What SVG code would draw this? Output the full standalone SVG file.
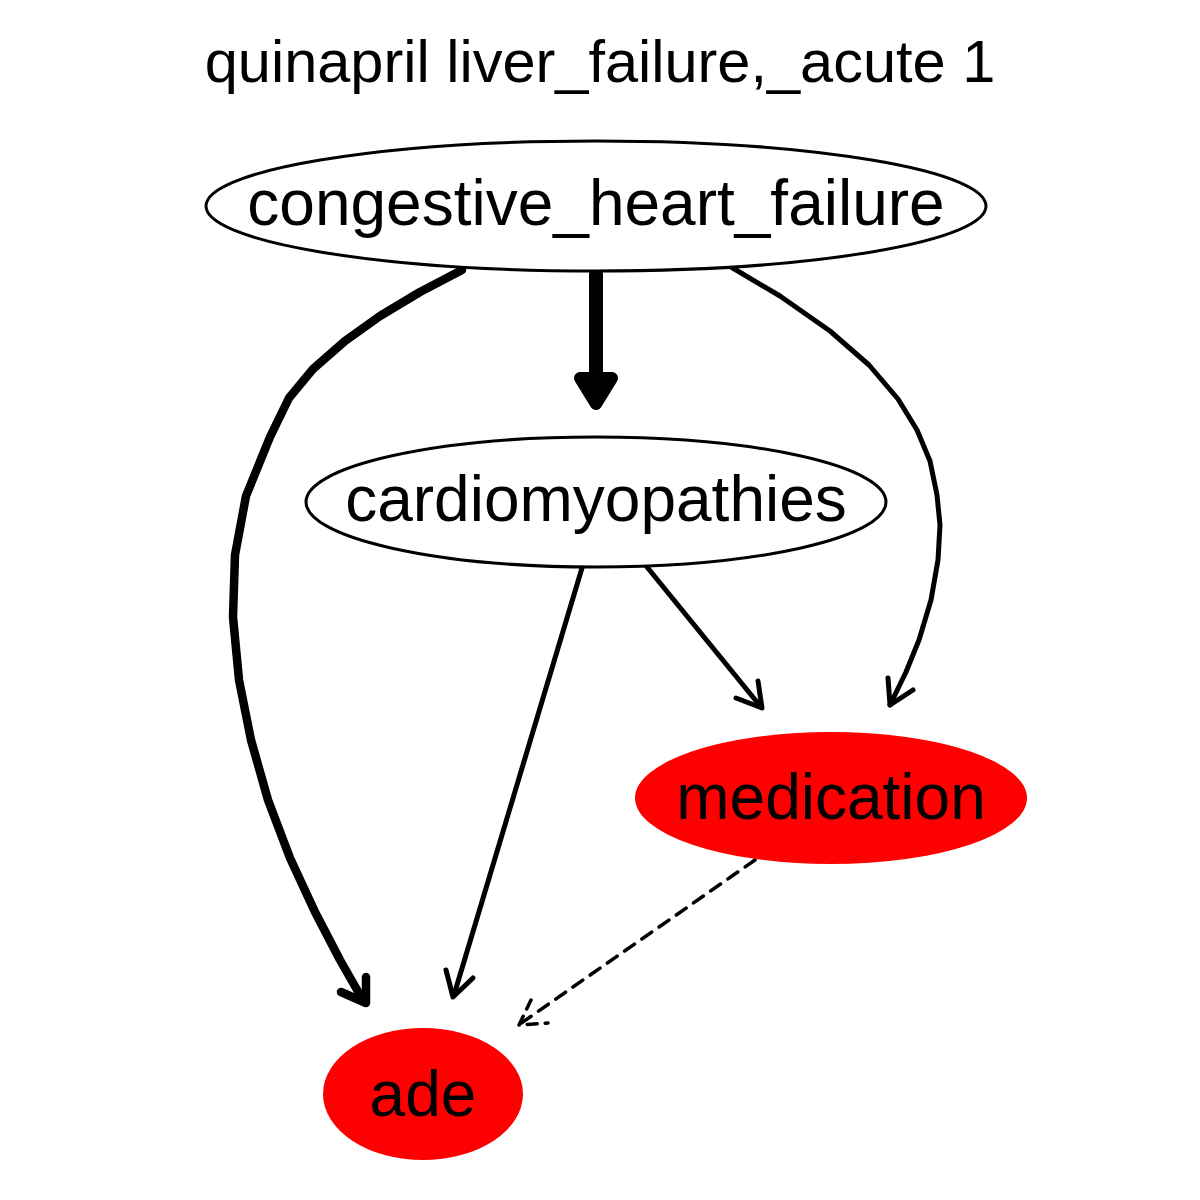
<svg xmlns="http://www.w3.org/2000/svg" width="1200" height="1200" viewBox="0 0 1200 1200">
<style>
text{font-family:"Liberation Sans",Arial,sans-serif;text-anchor:middle;fill:#000}
.lbl{font-size:64px}
.title{font-size:59.5px}
.e{fill:none;stroke:#000;stroke-linecap:round;stroke-linejoin:round}
.thin{stroke-width:5}
.mid{stroke-width:8.5}
</style>
<rect width="1200" height="1200" fill="#fff"/>
<text class="title" x="600" y="82">quinapril liver_failure,_acute 1</text>
<g id="connectors">
  <g id="e_chf_cardio">
    <path class="e" d="M596,274 L596,380" stroke-width="14"/>
    <polygon points="580,378 612,378 596,404" fill="#000" stroke="#000" stroke-width="12" stroke-linejoin="round"/>
  </g>
  <g id="e_chf_ade">
    <path class="e mid" d="M462,270 L420,292 L380,316 L345,341 L313,369 L289,398 L270,437 L246,496 L235,555 L233,617 L239,680 L251,740 L268,800 L290,858 L315,912 L340,960 L364,1002"/>
    <path class="e mid" d="M366,977 L366,1003 L341,992"/>
  </g>
  <g id="e_cardio_ade">
    <path class="e thin" d="M582,568 L454,995"/>
    <path class="e thin" d="M446,970 L453,997 L473,978"/>
  </g>
  <g id="e_cardio_med">
    <path class="e thin" d="M647,567 L761,707"/>
    <path class="e thin" d="M736,698 L762,708 L758,681"/>
  </g>
  <g id="e_chf_med">
    <path class="e thin" d="M731,267 L780,296 L830,331 L869,365 L898,399 L917,430 L930,461 L937,495 L940,525 L938,560 L931,600 L919,640 L906,672 L890,705"/>
    <path class="e thin" d="M888,678 L890,705 L913,690"/>
  </g>
  <g id="e_med_ade">
    <path class="e" stroke-width="3.5" stroke-dasharray="12,9" stroke-linecap="butt" d="M755,860 L520,1024"/>
    <path class="e" stroke-width="3.5" stroke-dasharray="10,8" stroke-linecap="butt" d="M531,1000 L519,1025 L548,1023"/>
  </g>
</g>
<g id="node_chf">
  <ellipse cx="596" cy="206" rx="390" ry="65" fill="#fff" stroke="#000" stroke-width="3"/>
  <text class="lbl" x="596" y="225">congestive_heart_failure</text>
</g>
<g id="node_cardio">
  <ellipse cx="596" cy="502" rx="290" ry="65" fill="#fff" stroke="#000" stroke-width="3"/>
  <text class="lbl" x="596" y="521">cardiomyopathies</text>
</g>
<g id="node_med">
  <ellipse cx="831" cy="798" rx="196" ry="66" fill="#ff0000"/>
  <text class="lbl" x="831" y="819">medication</text>
</g>
<g id="node_ade">
  <ellipse cx="423" cy="1094" rx="100" ry="66" fill="#ff0000"/>
  <text class="lbl" x="423" y="1116">ade</text>
</g>
</svg>
